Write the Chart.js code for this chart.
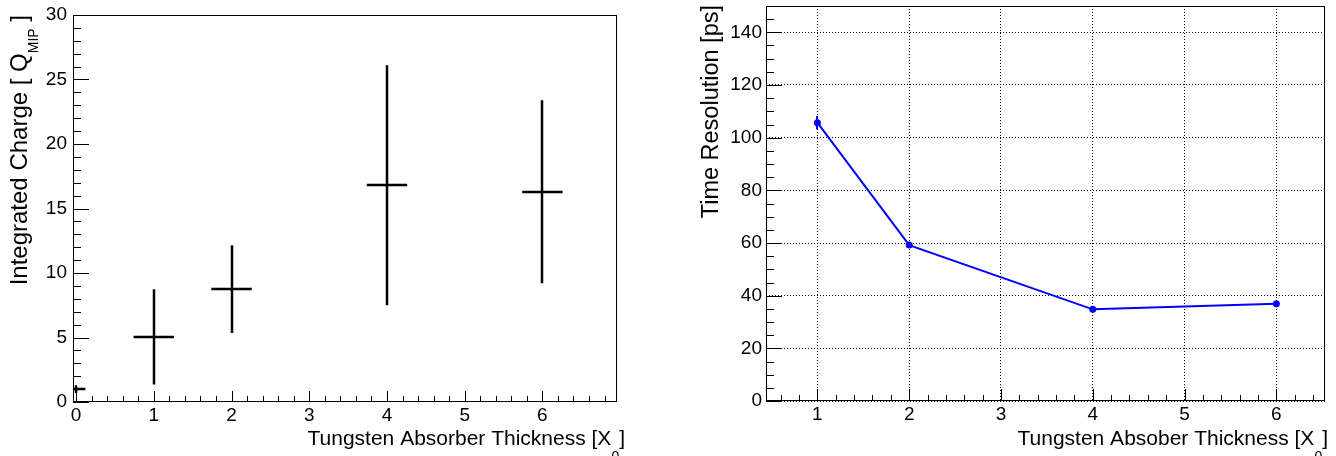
<!DOCTYPE html>
<html>
<head>
<meta charset="utf-8">
<script src="https://cdn.jsdelivr.net/npm/chart.js@4.4.0/dist/chart.umd.min.js"></script>
<style>
    html, body { margin: 0; padding: 0; background: #fff; }
    #wrap { position: relative; width: 1336px; height: 456px; overflow: hidden; }
    .pane { position: absolute; top: 0; width: 668px; height: 456px; }
</style>
</head>
<body>
<div id="wrap">
    <div class="pane" style="left: 0;"><canvas id="chargeChart" width="668" height="456"></canvas></div>
    <div class="pane" style="left: 668px;"><canvas id="timeChart" width="668" height="456"></canvas></div>
</div>
<script>
// left pad: integrated charge vs absorber thickness
const chargeX = [0, 1, 2, 4, 6];
const chargeY = [1.0, 5.05, 8.75, 16.8, 16.3];
const chargeYErr = [0.3, 3.7, 3.4, 9.3, 7.1];
const chargeXErr = [0.12, 0.26, 0.26, 0.26, 0.26];
const chargeXTicks = [0, 1, 2, 3, 4, 5, 6];
const chargeYTicks = [0, 5, 10, 15, 20, 25, 30];

// right pad: time resolution vs absorber thickness
const timeX = [1, 2, 4, 6];
const timeY = [105.7, 59.2, 34.8, 36.9];
const timeYErr = [2.5, 0.8, 0.7, 0.8];
const timeXTicks = [1, 2, 3, 4, 5, 6];
const timeYTicks = [0, 20, 40, 60, 80, 100, 120, 140];

const FONT = "'Liberation Sans', Arial, Helvetica, sans-serif";

function richWidth(ctx, parts, size, subSize) {
    let w = 0;
    parts.forEach(p => {
        ctx.font = (p.sub ? subSize : size) + 'px ' + FONT;
        w += ctx.measureText(p.text).width;
    });
    return w;
}

function drawRich(ctx, parts, size, subSize, subDrop) {
    let cx = 0;
    parts.forEach(p => {
        ctx.font = (p.sub ? subSize : size) + 'px ' + FONT;
        ctx.fillText(p.text, cx, p.sub ? subDrop : 0);
        cx += ctx.measureText(p.text).width;
    });
}

// ROOT style frame: inside ticks, box, error bars and titles with subscripts
function makeRootPlugin(cfg) {
    return {
        id: 'rootStyle',
        beforeDatasetsDraw(chart) {
            const { ctx, chartArea: a, scales: { x, y } } = chart;
            ctx.save();
            ctx.strokeStyle = '#000';
            ctx.lineWidth = 1;
            ctx.beginPath();

            let i0 = Math.ceil(x.min / cfg.xMinor - 1e-9);
            for (let i = i0; i * cfg.xMinor <= x.max + 1e-9; i++) {
                const v = i * cfg.xMinor;
                const major = Math.abs(v / cfg.xMajor - Math.round(v / cfg.xMajor)) < 1e-6;
                const px = Math.round(x.getPixelForValue(v)) + 0.5;
                ctx.moveTo(px, a.bottom);
                ctx.lineTo(px, a.bottom - (major ? cfg.xMajorLen : cfg.xMinorLen));
            }
            i0 = Math.ceil(y.min / cfg.yMinor - 1e-9);
            for (let i = i0; i * cfg.yMinor <= y.max + 1e-9; i++) {
                const v = i * cfg.yMinor;
                const major = Math.abs(v / cfg.yMajor - Math.round(v / cfg.yMajor)) < 1e-6;
                const py = Math.round(y.getPixelForValue(v)) + 0.5;
                ctx.moveTo(a.left, py);
                ctx.lineTo(a.left + (major ? cfg.yMajorLen : cfg.yMinorLen), py);
            }
            ctx.stroke();

            ctx.strokeRect(Math.round(a.left) + 0.5, Math.round(a.top) + 0.5,
                Math.round(a.width) - 1, Math.round(a.height) - 1);
            ctx.restore();
        },
        afterDatasetsDraw(chart) {
            const { ctx, chartArea: a, scales: { x, y } } = chart;

            ctx.save();
            ctx.beginPath();
            ctx.rect(a.left, a.top, a.width, a.height);
            ctx.clip();
            ctx.strokeStyle = cfg.errColor;
            ctx.lineWidth = cfg.errWidth;
            cfg.xs.forEach((xv, i) => {
                const px = Math.round(x.getPixelForValue(xv));
                const py = Math.round(y.getPixelForValue(cfg.ys[i]));
                ctx.beginPath();
                ctx.moveTo(px, y.getPixelForValue(cfg.ys[i] - cfg.yErr[i]));
                ctx.lineTo(px, y.getPixelForValue(cfg.ys[i] + cfg.yErr[i]));
                if (cfg.xErr) {
                    ctx.moveTo(x.getPixelForValue(xv - cfg.xErr[i]), py);
                    ctx.lineTo(x.getPixelForValue(xv + cfg.xErr[i]), py);
                }
                ctx.stroke();
            });
            ctx.restore();

            ctx.save();
            ctx.fillStyle = '#000';
            ctx.textBaseline = 'alphabetic';
            ctx.textAlign = 'left';
            // x title, right aligned to the frame
            const xw = richWidth(ctx, cfg.xTitle, cfg.titleSize, cfg.subSize);
            ctx.save();
            ctx.translate(a.right + cfg.xTitleShift - xw, cfg.xTitleBase);
            drawRich(ctx, cfg.xTitle, cfg.titleSize, cfg.subSize, cfg.xSubDrop);
            ctx.restore();
            // y title, rotated, aligned to the top of the frame
            const ySub = cfg.ySubSize || cfg.subSize;
            const yw = richWidth(ctx, cfg.yTitle, cfg.yTitleSize, ySub);
            ctx.translate(cfg.yTitleBase, a.top + cfg.yTitleShift);
            ctx.rotate(-Math.PI / 2);
            ctx.translate(-yw, 0);
            drawRich(ctx, cfg.yTitle, cfg.yTitleSize, ySub, cfg.ySubDrop);
            ctx.restore();
        }
    };
}

function fixedTicks(list) {
    return scale => { scale.ticks = list.map(v => ({ value: v })); };
}

function tickFont() {
    return { family: FONT, size: 19 };
}

new Chart(document.getElementById('chargeChart'), {
    type: 'scatter',
    data: {
        datasets: [{
            data: chargeX.map((v, i) => ({ x: v, y: chargeY[i] })),
            pointRadius: 1.5,
            pointBackgroundColor: '#000',
            pointBorderWidth: 0
        }]
    },
    options: {
        responsive: false,
        animation: false,
        devicePixelRatio: 1,
        layout: { padding: { left: 0, top: 15, right: 51, bottom: 0 } },
        plugins: { legend: { display: false }, tooltip: { enabled: false } },
        scales: {
            x: {
                type: 'linear', position: 'bottom', min: -0.04, max: 6.96,
                afterBuildTicks: fixedTicks(chargeXTicks),
                afterFit: s => { s.height = 54; s.paddingLeft = 0; s.paddingRight = 0; },
                grid: { display: false, drawTicks: false }, border: { display: false },
                ticks: { color: '#000', font: tickFont(), padding: 2, maxRotation: 0, autoSkip: false }
            },
            y: {
                type: 'linear', position: 'left', min: 0, max: 30,
                afterBuildTicks: fixedTicks(chargeYTicks),
                afterFit: s => { s.width = 73; s.paddingTop = 0; s.paddingBottom = 0; },
                grid: { display: false, drawTicks: false }, border: { display: false },
                ticks: { color: '#000', font: tickFont(), padding: 6, autoSkip: false }
            }
        }
    },
    plugins: [makeRootPlugin({
        xMinor: 0.2, xMajor: 1, xMajorLen: 11, xMinorLen: 6,
        yMinor: 1, yMajor: 5, yMajorLen: 16, yMinorLen: 8,
        xs: chargeX, ys: chargeY, yErr: chargeYErr, xErr: chargeXErr,
        errColor: '#000', errWidth: 2.5,
        xTitle: [{ text: 'Tungsten Absorber Thickness [X' }, { text: '0', sub: true }, { text: ']' }],
        yTitle: [{ text: 'Integrated Charge [ Q' }, { text: 'MIP', sub: true }, { text: ' ]' }],
        titleSize: 21, yTitleSize: 24, subSize: 14, ySubSize: 14,
        xTitleShift: 8, xTitleBase: 445, xSubDrop: 16,
        yTitleBase: 27, yTitleShift: 0, ySubDrop: 11
    })]
});

new Chart(document.getElementById('timeChart'), {
    type: 'scatter',
    data: {
        datasets: [{
            data: timeX.map((v, i) => ({ x: v, y: timeY[i] })),
            showLine: true,
            borderColor: '#0000ff',
            borderWidth: 2,
            pointRadius: 3.5,
            pointBackgroundColor: '#0000ff',
            pointBorderWidth: 0
        }]
    },
    options: {
        responsive: false,
        animation: false,
        devicePixelRatio: 1,
        layout: { padding: { left: 0, top: 6, right: 11, bottom: 0 } },
        plugins: { legend: { display: false }, tooltip: { enabled: false } },
        scales: {
            x: {
                type: 'linear', position: 'bottom', min: 0.44, max: 6.53,
                afterBuildTicks: fixedTicks(timeXTicks),
                afterFit: s => { s.height = 55; s.paddingLeft = 0; s.paddingRight = 0; },
                grid: { display: true, color: '#000', lineWidth: 1, drawTicks: false },
                border: { display: false, dash: [1, 2] },
                ticks: { color: '#000', font: tickFont(), padding: 2, maxRotation: 0, autoSkip: false }
            },
            y: {
                type: 'linear', position: 'left', min: 0, max: 150,
                afterBuildTicks: fixedTicks(timeYTicks),
                afterFit: s => { s.width = 98; s.paddingTop = 0; s.paddingBottom = 0; },
                grid: { display: true, color: '#000', lineWidth: 1, drawTicks: false },
                border: { display: false, dash: [1, 2] },
                ticks: { color: '#000', font: tickFont(), padding: 4, autoSkip: false }
            }
        }
    },
    plugins: [makeRootPlugin({
        xMinor: 0.2, xMajor: 1, xMajorLen: 12, xMinorLen: 6,
        yMinor: 5, yMajor: 20, yMajorLen: 16, yMinorLen: 8,
        xs: timeX, ys: timeY, yErr: timeYErr,
        errColor: '#0000ff', errWidth: 2,
        xTitle: [{ text: 'Tungsten Absober Thickness [X' }, { text: '0', sub: true }, { text: ']' }],
        yTitle: [{ text: 'Time Resolution [ps]' }],
        titleSize: 21, yTitleSize: 23.5, subSize: 14,
        xTitleShift: 3, xTitleBase: 445, xSubDrop: 16,
        yTitleBase: 50, yTitleShift: -1, ySubDrop: 0
    })]
});
</script>
</body>
</html>
